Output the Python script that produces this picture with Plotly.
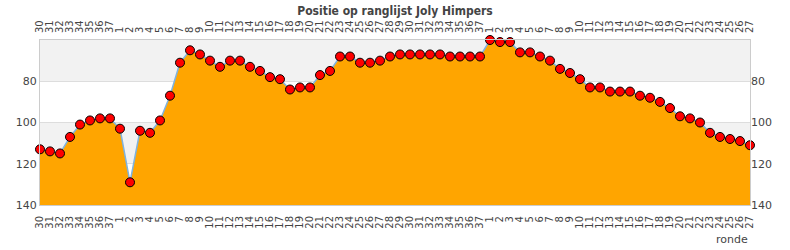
import plotly.graph_objects as go

labels = [str(r) for r in range(30, 38)] + [str(r) for r in range(1, 38)] + [str(r) for r in range(1, 28)]
positions = [113, 114, 115, 107, 101, 99, 98, 98,
             103, 129, 104, 105, 99, 87, 71, 65, 67, 70, 73, 70, 70, 73, 75, 78, 79, 84, 83, 83,
             77, 75, 68, 68, 71, 71, 70, 68, 67, 67, 67, 67, 67, 68, 68, 68, 68,
             60, 61, 61, 66, 66, 68, 70, 74, 76, 79, 83, 83, 85, 85, 85, 87, 88, 90, 93, 97, 98,
             100, 105, 107, 108, 109, 111]
y_ticks = [80, 100, 120, 140]
bands = [(60, 80), (100, 120)]
y_min, y_max = 60, 140
title = "Positie op ranglijst Joly Himpers"

xs = list(range(len(labels)))
font = "DejaVu Sans"

fig = go.Figure()
fig.add_trace(go.Scatter(x=xs, y=[y_max] * len(xs), mode="lines", line=dict(width=0),
                         hoverinfo="skip", showlegend=False))
fig.add_trace(go.Scatter(x=xs, y=positions, mode="lines+markers", fill="tonexty",
                         fillcolor="#FFA500", line=dict(color="#7EB3E0", width=1.5),
                         marker=dict(symbol="circle", size=9, color="#FF0000",
                                     line=dict(color="#000000", width=1)),
                         cliponaxis=False, showlegend=False))
# invisible trace to anchor the mirrored axes
fig.add_trace(go.Scatter(x=xs, y=positions, xaxis="x2", yaxis="y2", mode="markers",
                         marker=dict(opacity=0), hoverinfo="skip", showlegend=False))

for lo, hi in bands:
    fig.add_shape(type="rect", xref="paper", yref="y", x0=0, x1=1, y0=lo, y1=hi,
                  fillcolor="#F2F2F2", line=dict(width=0), layer="below")

axis_font = dict(family=font, size=10, color="#444444")
xcommon = dict(range=[0, len(xs) - 1], tickmode="array", tickvals=xs, ticktext=labels,
               tickangle=-90, tickfont=axis_font, showgrid=False, zeroline=False, ticks="",
               ticklabelstandoff=6)
ycommon = dict(range=[y_max, y_min], tickmode="array", tickvals=y_ticks,
               tickfont=dict(family=font, size=11, color="#444444"), zeroline=False, ticks="")

fig.update_layout(
    width=790, height=250,
    margin=dict(l=40, r=40, t=40, b=45),
    paper_bgcolor="white", plot_bgcolor="white",
    title=dict(text="<b>" + title + "</b>", x=0.5, xanchor="center", y=0.975, yanchor="top",
               font=dict(family="DejaVu Sans Condensed", size=12, color="#444444")),
    xaxis=dict(**xcommon, side="bottom", showline=True, linecolor="#CCCCCC", mirror=True),
    xaxis2=dict(**xcommon, side="top", overlaying="x", matches="x", showline=False),
    yaxis=dict(**ycommon, side="left", showgrid=True, gridcolor="#DDDDDD",
               showline=True, linecolor="#CCCCCC", mirror=True),
    yaxis2=dict(**ycommon, side="right", overlaying="y", showgrid=False, showline=False),
    annotations=[dict(text="ronde", xref="paper", yref="paper", x=1, y=0, xanchor="right",
                      yanchor="top", yshift=-26, showarrow=False,
                      font=dict(family=font, size=11, color="#444444"))],
)

fig.write_html("out.html")
